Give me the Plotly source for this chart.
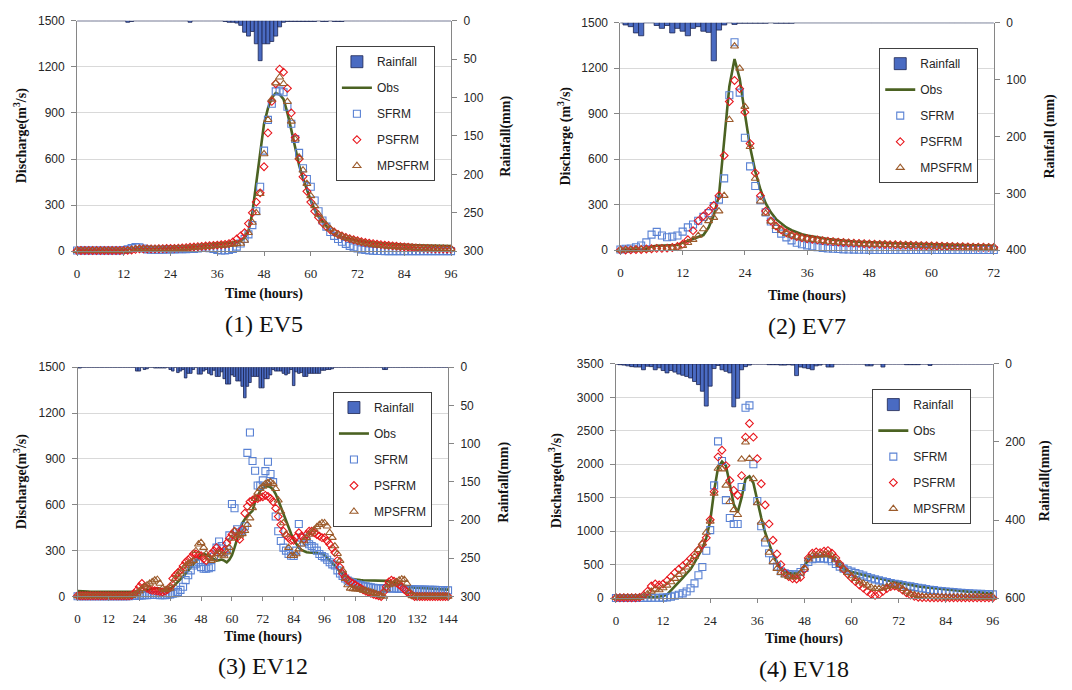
import plotly.graph_objects as go

W, H = 1072, 690

SANS = "Liberation Sans, Arial, sans-serif"
SERIF = "Liberation Serif, 'Times New Roman', serif"
INK = "#262626"
AXIS = "#868686"
GRID = "#D9D9D9"

RAIN_FILL = "#4A6BC2"
RAIN_EDGE = "#1C2550"
OBS_COLOR = "#4B6222"
SFRM_COLOR = "#5A82D4"
PSFRM_COLOR = "#E8161C"
MPSFRM_COLOR = "#9C5B2B"

# ---------------- EV5 : hourly values, 0-96 h ----------------
EV5_RAIN = [
    0, 0, 0, 0, 0, 0, 0, 0, 0, 0, 0, 0,
    0, 2, 1, 0, 0, 0, 0, 0, 0, 0, 0, 0,
    0, 0, 0, 0, 0, 2, 0, 0, 0, 0, 0, 0,
    0, 0, 1, 2, 2, 3, 6, 15, 20, 14, 30, 52,
    30, 30, 27, 20, 8, 2, 1, 1, 1, 1, 1, 1,
    1, 1, 0, 1, 1, 0, 1, 1, 1, 0, 0, 0,
    0, 0, 0, 0, 0, 0, 0, 0, 0, 0, 0, 0,
    0, 0, 0, 0, 0, 0, 0, 0, 0, 0, 0, 0,
    0]
EV5_OBS = [
    10, 10, 10, 10, 10, 10, 10, 10, 10, 10, 10, 10,
    12, 14, 18, 20, 20, 18, 18, 18, 18, 20, 20, 22,
    22, 24, 25, 26, 28, 30, 32, 35, 38, 42, 46, 50,
    50, 52, 55, 55, 56, 60, 68, 85, 130, 250, 450, 650,
    830, 930, 1000, 1030, 1020, 990, 900, 790, 670, 560, 475, 395,
    330, 270, 225, 195, 165, 135, 115, 100, 92, 85, 78, 72,
    68, 64, 61, 58, 56, 54, 52, 50, 48, 46, 45, 44,
    42, 41, 40, 39, 38, 38, 37, 36, 36, 35, 35, 34,
    34]
EV5_SFRM = [
    5, 5, 5, 5, 5, 5, 5, 5, 5, 5, 5, 5,
    8, 12, 20, 28, 25, 18, 12, 10, 10, 10, 10, 12,
    12, 12, 14, 14, 14, 15, 15, 18, 22, 22, 20, 15,
    8, 5, 5, 8, 15, 30, 50, 80, 110, 170, 260, 420,
    655, 855, 960, 1040, 1045, 1035, 940, 830, 730, 640, 540, 470,
    420, 330, 260, 200, 160, 125, 100, 80, 62, 48, 35, 25,
    18, 12, 8, 5, 3, 2, 2, 1, 1, 1, 1, 1,
    1, 1, 1, 1, 1, 1, 1, 1, 1, 1, 1, 1,
    1]
EV5_PSFRM = [
    5, 5, 5, 5, 5, 5, 5, 5, 5, 5, 5, 5,
    5, 6, 8, 12, 15, 15, 15, 15, 15, 16, 17, 18,
    18, 19, 20, 22, 24, 26, 28, 30, 32, 34, 36, 38,
    40, 42, 45, 50, 60, 80, 100, 120, 180, 250, 320, 380,
    550, 770, 975, 1090, 1185, 1165, 1060, 900, 740, 600, 485, 390,
    320, 260, 220, 185, 160, 140, 125, 110, 100, 90, 82, 75,
    68, 62, 57, 53, 50, 46, 43, 40, 38, 35, 33, 30,
    28, 26, 24, 22, 20, 19, 18, 17, 16, 15, 15, 14,
    14]
EV5_MPSFRM = [
    3, 3, 3, 3, 3, 3, 3, 3, 3, 3, 3, 3,
    3, 5, 10, 15, 15, 15, 15, 15, 15, 15, 16, 16,
    16, 17, 18, 19, 20, 22, 24, 26, 28, 30, 32, 34,
    36, 38, 40, 42, 44, 48, 50, 70, 120, 187, 250, 374,
    633, 856, 988, 1094, 1132, 1090, 973, 845, 729, 612, 527, 440,
    360, 295, 240, 200, 170, 145, 125, 110, 98, 88, 80, 72,
    65, 58, 52, 47, 43, 40, 37, 34, 32, 30, 28, 26,
    25, 24, 23, 22, 21, 20, 19, 18, 18, 17, 17, 16,
    16]

# ---------------- EV7 : hourly values, 0-72 h ----------------
EV7_RAIN = [
    0, 4, 7, 18, 23, 0, 0, 5, 10, 5, 18, 10,
    15, 23, 10, 7, 15, 17, 67, 13, 4, 0, 3, 1,
    1, 1, 1, 1, 1, 0, 1, 1, 1, 1, 0, 0,
    0, 0, 0, 0, 0, 0, 0, 0, 0, 0, 0, 0,
    0, 0, 0, 0, 0, 0, 0, 0, 0, 0, 0, 0,
    0, 0, 0, 0, 0, 0, 0, 0, 0, 0, 0, 0,
    0]
EV7_OBS = [
    5, 5, 5, 5, 5, 10, 25, 30, 30, 30, 30, 35,
    50, 62, 75, 88, 100, 150, 230, 360, 700, 1080, 1260, 1130,
    900, 680, 520, 400, 310, 250, 205, 175, 150, 132, 118, 106,
    97, 90, 84, 79, 74, 70, 66, 63, 60, 58, 56, 54,
    52, 50, 49, 48, 47, 46, 45, 44, 43, 42, 41, 40,
    39, 38, 37, 36, 35, 34, 33, 32, 31, 30, 30, 29,
    29]
EV7_SFRM = [
    5, 10, 12, 20, 31, 52, 103, 121, 97, 86, 90, 97,
    123, 151, 170, 195, 220, 245, 291, 334, 474, 1022, 1371, 1039,
    742, 553, 424, 330, 250, 190, 140, 110, 85, 65, 50, 40,
    32, 26, 20, 16, 12, 10, 8, 6, 5, 4, 3, 3,
    2, 2, 2, 2, 2, 2, 2, 2, 2, 2, 2, 2,
    2, 2, 2, 2, 2, 2, 2, 2, 2, 2, 2, 2,
    2]
EV7_PSFRM = [
    2, 2, 3, 5, 5, 8, 10, 12, 12, 14, 18, 25,
    40, 70, 129, 194, 226, 258, 295, 360, 624, 980, 1119, 1065,
    910, 703, 510, 360, 258, 194, 160, 135, 115, 100, 90, 82,
    76, 72, 68, 64, 60, 57, 54, 51, 49, 47, 45, 43,
    41, 40, 39, 38, 37, 36, 35, 34, 33, 32, 31, 30,
    29, 28, 27, 26, 25, 24, 23, 22, 21, 20, 20, 19,
    19]
EV7_MPSFRM = [
    2, 2, 3, 4, 5, 6, 8, 10, 10, 12, 15, 20,
    30, 50, 70, 97, 140, 194, 215, 258, 360, 860, 1345, 1199,
    947, 682, 473, 323, 243, 190, 155, 130, 110, 97, 87, 80,
    74, 70, 66, 62, 58, 55, 52, 50, 48, 46, 44, 42,
    40, 39, 38, 37, 36, 35, 34, 33, 32, 31, 30, 29,
    28, 27, 26, 25, 24, 23, 22, 21, 20, 20, 19, 19,
    18]

# ---------------- EV12 : hourly values, 0-144 h ----------------
EV12_RAIN = [
    1, 1, 0, 0, 0, 0, 0, 0, 0, 0, 0, 0,
    0, 0, 0, 0, 0, 0, 0, 0, 0, 0, 0, 5,
    5, 0, 3, 2, 0, 0, 1, 1, 1, 1, 1, 0,
    3, 5, 0, 7, 5, 3, 14, 8, 8, 3, 0, 9,
    9, 5, 3, 8, 10, 4, 12, 12, 6, 15, 22, 22,
    10, 12, 18, 18, 25, 40, 25, 20, 12, 12, 12, 27,
    27, 15, 15, 10, 3, 5, 5, 5, 8, 10, 8, 3,
    24, 6, 8, 7, 12, 12, 8, 8, 8, 8, 8, 4,
    4, 3, 3, 2, 0, 0, 0, 0, 0, 0, 0, 0,
    0, 0, 0, 0, 0, 0, 0, 0, 0, 0, 0, 3,
    3, 0, 0, 0, 0, 0, 0, 0, 0, 0, 0, 0,
    0, 0, 0, 0, 0, 0, 0, 0, 0, 0, 0, 0,
    0]
EV12_OBS = [
    35, 35, 35, 35, 32, 30, 30, 30, 28, 28, 28, 28,
    27, 27, 26, 26, 26, 26, 26, 26, 27, 28, 28, 30,
    30, 32, 35, 40, 45, 50, 55, 55, 50, 45, 42, 45,
    50, 60, 80, 95, 110, 130, 150, 170, 190, 210, 230, 250,
    270, 280, 275, 265, 255, 245, 235, 238, 242, 235, 224, 240,
    270, 320, 380, 430, 480, 510, 530, 545, 560, 620, 660, 690,
    710, 720, 722, 715, 700, 670, 630, 585, 535, 490, 450, 410,
    370, 340, 320, 305, 295, 290, 288, 286, 285, 285, 284, 282,
    270, 255, 240, 220, 200, 180, 160, 145, 135, 125, 118, 113,
    110, 108, 107, 106, 106, 106, 105, 105, 105, 104, 104, 104,
    102, 100, 96, 92, 88, 82, 76, 70, 66, 62, 60, 58,
    57, 56, 55, 54, 53, 52, 51, 50, 49, 48, 47, 46,
    45]
EV12_SFRM = [
    2, 2, 2, 2, 2, 2, 2, 2, 2, 2, 2, 2,
    2, 2, 2, 2, 2, 2, 2, 2, 2, 3, 4, 5,
    6, 7, 8, 9, 10, 10, 10, 10, 9, 8, 8, 10,
    14, 18, 21, 30, 43, 64, 107, 139, 171, 203, 215, 224,
    192, 182, 182, 185, 192, 260, 320, 360, 330, 290, 310, 400,
    605, 577, 440, 420, 430, 460, 940, 1073, 887, 823, 726, 726,
    760, 820, 882, 801, 748, 523, 427, 363, 320, 300, 278, 267,
    265, 300, 474, 385, 353, 363, 342, 330, 320, 300, 278, 265,
    256, 240, 224, 210, 203, 171, 150, 135, 118, 105, 96, 88,
    82, 78, 75, 70, 66, 64, 60, 57, 55, 54, 53, 53,
    53, 53, 52, 52, 51, 50, 50, 49, 48, 48, 47, 47,
    46, 46, 45, 45, 44, 44, 43, 43, 42, 42, 41, 40,
    40]
EV12_PSFRM = [
    5, 5, 5, 5, 5, 5, 5, 5, 5, 5, 5, 5,
    5, 5, 5, 5, 5, 5, 5, 5, 5, 8, 20, 40,
    64, 85, 65, 53, 45, 40, 38, 35, 32, 30, 35, 45,
    64, 117, 139, 155, 171, 200, 224, 240, 256, 278, 278, 272,
    267, 246, 235, 256, 280, 300, 320, 300, 288, 303, 350, 380,
    406, 427, 385, 374, 438, 545, 590, 620, 630, 641, 641, 650,
    652, 662, 655, 641, 620, 577, 523, 470, 427, 400, 385, 367,
    367, 390, 417, 395, 374, 406, 427, 427, 417, 405, 395, 385,
    385, 363, 342, 315, 288, 235, 192, 150, 128, 107, 95, 85,
    75, 64, 55, 43, 35, 28, 21, 15, 10, 5, 0, 30,
    64, 96, 107, 100, 90, 77, 64, 47, 30, 21, 10, 0,
    0, 0, 0, 0, 0, 0, 0, 0, 0, 0, 0, 0,
    0]
EV12_MPSFRM = [
    3, 3, 3, 3, 3, 3, 3, 3, 3, 3, 3, 3,
    3, 3, 3, 3, 3, 3, 3, 3, 3, 5, 10, 20,
    35, 50, 65, 75, 85, 95, 107, 111, 85, 53, 43, 48,
    53, 85, 117, 140, 160, 180, 200, 215, 225, 235, 299, 342,
    352, 320, 278, 256, 235, 246, 278, 280, 270, 265, 290, 320,
    380, 427, 400, 400, 410, 430, 470, 513, 580, 640, 680, 705,
    720, 737, 745, 748, 737, 705, 630, 556, 481, 406, 320, 267,
    267, 278, 310, 342, 363, 385, 406, 420, 438, 455, 470, 481,
    481, 460, 417, 385, 330, 280, 235, 171, 117, 75, 53, 50,
    48, 47, 45, 40, 38, 33, 28, 24, 18, 11, 5, 0,
    47, 75, 80, 85, 95, 107, 113, 110, 85, 32, 4, 0,
    0, 0, 0, 0, 0, 0, 0, 0, 0, 0, 0, 0,
    0]

# ---------------- EV18 : hourly values, 0-96 h ----------------
EV18_RAIN = [
    0, 2, 3, 5, 7, 8, 8, 15, 6, 7, 15, 10,
    17, 23, 17, 21, 26, 29, 32, 36, 45, 53, 70, 108,
    57, 12, 4, 15, 19, 23, 110, 88, 15, 7, 3, 0,
    0, 0, 0, 2, 2, 2, 3, 3, 2, 3, 30, 8,
    10, 12, 15, 5, 3, 0, 8, 8, 0, 0, 0, 0,
    0, 0, 0, 0, 5, 5, 0, 0, 8, 0, 0, 0,
    0, 0, 2, 2, 2, 2, 0, 0, 4, 0, 0, 0,
    0, 0, 0, 0, 0, 0, 0, 0, 0, 0, 0, 0,
    0]
EV18_OBS = [
    10, 10, 10, 10, 10, 10, 10, 12, 15, 18, 20, 24,
    30, 50, 110, 170, 230, 300, 370, 430, 530, 640, 740, 900,
    1150, 1600, 1950, 2040, 1980, 1700, 1400, 1280, 1500, 1780, 1820, 1720,
    1450, 1200, 980, 800, 650, 540, 450, 400, 375, 365, 370, 400,
    480, 570, 610, 620, 625, 630, 625, 600, 550, 490, 440, 410,
    390, 375, 360, 345, 330, 318, 305, 292, 280, 268, 255, 243,
    230, 218, 205, 195, 185, 175, 165, 158, 150, 145, 140, 135,
    128, 122, 116, 110, 105, 100, 97, 93, 88, 83, 78, 74,
    70]
EV18_SFRM = [
    2, 2, 2, 2, 2, 2, 2, 3, 3, 4, 4, 5,
    6, 10, 20, 35, 50, 70, 98, 146, 220, 342, 464, 708,
    1015, 1684, 2342, 2049, 1464, 1196, 1108, 1108, 1660, 2845, 2880, 2000,
    1450, 1074, 830, 669, 561, 470, 400, 370, 360, 350, 355, 390,
    450, 540, 580, 590, 595, 590, 580, 550, 510, 470, 440, 415,
    395, 375, 355, 335, 315, 295, 280, 265, 250, 238, 226, 215,
    205, 195, 185, 175, 165, 155, 145, 135, 125, 118, 110, 103,
    97, 92, 88, 84, 80, 76, 72, 68, 65, 62, 59, 56,
    55]
EV18_PSFRM = [
    5, 5, 5, 5, 5, 5, 10, 40, 100, 180, 210, 195,
    210, 260, 320, 380, 430, 480, 530, 590, 650, 720, 800, 900,
    1170, 1590, 2110, 2210, 1980, 1757, 1610, 1537, 1830, 2405, 2610, 2405,
    2084, 1708, 1391, 1108, 864, 659, 500, 380, 320, 290, 285, 310,
    430, 600, 670, 690, 680, 700, 710, 670, 600, 510, 430, 360,
    300, 245, 195, 150, 100, 60, 40, 55, 100, 140, 170, 180,
    160, 120, 80, 45, 25, 12, 8, 6, 5, 5, 5, 5,
    5, 5, 5, 5, 5, 5, 5, 5, 5, 5, 5, 5,
    5]
EV18_MPSFRM = [
    5, 5, 5, 5, 5, 5, 8, 20, 60, 100, 130, 120,
    150, 190, 240, 290, 350, 400, 460, 530, 620, 720, 820, 980,
    1147, 1562, 1937, 1928, 1684, 1440, 1318, 1245, 2074, 2328, 2084, 1781,
    1420, 1130, 880, 680, 540, 440, 380, 340, 320, 310, 320, 370,
    450, 580, 630, 640, 640, 650, 660, 630, 570, 500, 430, 380,
    330, 290, 250, 220, 190, 160, 140, 140, 150, 170, 180, 190,
    170, 140, 100, 70, 50, 35, 25, 22, 20, 18, 16, 15,
    14, 13, 13, 12, 12, 12, 11, 11, 11, 10, 10, 10,
    10]

# Tick labels
TIME_TICKS_96 = [0, 12, 24, 36, 48, 60, 72, 84, 96]
TIME_TICKS_72 = [0, 12, 24, 36, 48, 60, 72]
TIME_TICKS_144 = [0, 12, 24, 36, 48, 60, 72, 84, 96, 108, 120, 132, 144]
Q_TICKS_1500 = [0, 300, 600, 900, 1200, 1500]
Q_TICKS_3500 = [0, 500, 1000, 1500, 2000, 2500, 3000, 3500]
R_TICKS_300 = [0, 50, 100, 150, 200, 250, 300]
R_TICKS_400 = [0, 100, 200, 300, 400]
R_TICKS_600 = [0, 200, 400, 600]

events = [
    dict(label="(1) EV5", rain=EV5_RAIN, obs=EV5_OBS, sfrm=EV5_SFRM, psfrm=EV5_PSFRM, mpsfrm=EV5_MPSFRM,
         xticks=TIME_TICKS_96, qticks=Q_TICKS_1500, rticks=R_TICKS_300,
         qtitle="Discharge(m<sup>3</sup>/s)", rtitle="Rainfall(mm)",
         box=(75, 14, 453.5, 249.3), qx=18.5, rx=509, tx_y=293, sub_y=324, leg=(337, 40)),
    dict(label="(2) EV7", rain=EV7_RAIN, obs=EV7_OBS, sfrm=EV7_SFRM, psfrm=EV7_PSFRM, mpsfrm=EV7_MPSFRM,
         xticks=TIME_TICKS_72, qticks=Q_TICKS_1500, rticks=R_TICKS_400,
         qtitle="Discharge (m<sup>3</sup>/s)", rtitle="Rainfall (mm)",
         box=(625, 16, 1003, 248.3), qx=568, rx=1060, tx_y=295, sub_y=326, leg=(887, 42)),
    dict(label="(3) EV12", rain=EV12_RAIN, obs=EV12_OBS, sfrm=EV12_SFRM, psfrm=EV12_PSFRM, mpsfrm=EV12_MPSFRM,
         xticks=TIME_TICKS_144, qticks=Q_TICKS_1500, rticks=R_TICKS_300,
         qtitle="Discharge(m<sup>3</sup>/s)", rtitle="Rainfall(mm)",
         box=(75.5, 367.7, 450.5, 601.7), qx=18.5, rx=507, tx_y=643, sub_y=673, leg=(334, 393)),
    dict(label="(4) EV18", rain=EV18_RAIN, obs=EV18_OBS, sfrm=EV18_SFRM, psfrm=EV18_PSFRM, mpsfrm=EV18_MPSFRM,
         xticks=TIME_TICKS_96, qticks=Q_TICKS_3500, rticks=R_TICKS_600,
         qtitle="Discharge(m<sup>3</sup>/s)", rtitle="Rainfall(mm)",
         box=(620.5, 364.3, 1002, 603.3), qx=560, rx=1055, tx_y=645, sub_y=676, leg=(880, 390)),
]


def fx(v):
    return v / W


def fy(v):
    return 1 - v / H


fig = go.Figure()
layout = {}
annotations = []

for i, ev in enumerate(events):
    n = i + 1
    x_id = "x" if n == 1 else f"x{n}"
    r_num, q_num = 2 * n - 1, 2 * n
    r_id = "y" if r_num == 1 else f"y{r_num}"
    q_id = f"y{q_num}"
    leg_id = "legend" if n == 1 else f"legend{n}"
    hours = list(range(len(ev["obs"])))
    for series in ("rain", "sfrm", "psfrm", "mpsfrm"):
        assert len(ev[series]) == len(hours), (ev["label"], series)

    fig.add_trace(go.Bar(
        x=hours, y=ev["rain"], xaxis=x_id, yaxis=r_id, name="Rainfall", width=1.0,
        marker=dict(color=RAIN_FILL, line=dict(color=RAIN_EDGE, width=0.8)),
        legend=leg_id, legendgroup=f"ev{n}-rain"))
    fig.add_trace(go.Scatter(
        x=hours, y=ev["obs"], xaxis=x_id, yaxis=q_id, name="Obs", mode="lines",
        line=dict(color=OBS_COLOR, width=2.6), cliponaxis=False,
        legend=leg_id, legendgroup=f"ev{n}-obs"))
    for key, name, symbol, color, size in (
        ("sfrm", "SFRM", "square-open", SFRM_COLOR, 7),
        ("psfrm", "PSFRM", "diamond-open", PSFRM_COLOR, 6),
        ("mpsfrm", "MPSFRM", "triangle-up-open", MPSFRM_COLOR, 7),
    ):
        fig.add_trace(go.Scatter(
            x=hours, y=ev[key], xaxis=x_id, yaxis=q_id, name=name, mode="markers",
            marker=dict(symbol=symbol, size=size, color=color, line=dict(color=color, width=1.1)),
            cliponaxis=False, legend=leg_id, legendgroup=f"ev{n}-{key}"))

    L, T, R, B = ev["box"]
    xmax = ev["xticks"][-1]
    layout["xaxis" if n == 1 else f"xaxis{n}"] = dict(
        domain=[fx(L), fx(R)], anchor=r_id, range=[0, xmax],
        tickvals=ev["xticks"], ticks="outside", ticklen=4, tickcolor=AXIS,
        showline=True, linecolor=AXIS, linewidth=1, showgrid=False, zeroline=False,
        tickfont=dict(family=SERIF, size=13, color=INK), ticklabelstandoff=6)
    layout["yaxis" if r_num == 1 else f"yaxis{r_num}"] = dict(
        domain=[fy(B), fy(T)], anchor=x_id, side="right",
        range=[ev["rticks"][-1], 0], tickvals=ev["rticks"],
        ticks="outside", ticklen=5, tickcolor=AXIS,
        showline=True, linecolor=AXIS, linewidth=1, showgrid=False, zeroline=False,
        tickfont=dict(family=SANS, size=12, color=INK), ticklabelstandoff=4)
    layout[f"yaxis{q_num}"] = dict(
        overlaying=r_id, anchor=x_id, side="left",
        range=[0, ev["qticks"][-1]], tickvals=ev["qticks"],
        ticks="outside", ticklen=5, tickcolor=AXIS,
        showline=True, linecolor=AXIS, linewidth=1,
        showgrid=True, gridcolor=GRID, gridwidth=1, zeroline=False,
        tickfont=dict(family=SANS, size=12, color=INK), ticklabelstandoff=4)

    lx, ly = ev["leg"]
    layout[leg_id] = dict(
        x=fx(lx), y=fy(ly), xanchor="left", yanchor="top",
        bgcolor="white", bordercolor="#404040", borderwidth=1,
        font=dict(family=SANS, size=12, color=INK),
        traceorder="grouped", tracegroupgap=7, itemwidth=30)

    mid_y = fy((T + B) / 2)
    annotations += [
        dict(x=fx(ev["qx"]), y=mid_y, text=f"<b>{ev['qtitle']}</b>", textangle=-90,
             font=dict(family=SERIF, size=14, color="#111")),
        dict(x=fx(ev["rx"]), y=mid_y, text=f"<b>{ev['rtitle']}</b>", textangle=-90,
             font=dict(family=SERIF, size=14, color="#111")),
        dict(x=fx((L + R) / 2), y=fy(ev["tx_y"]), text="<b>Time (hours)</b>",
             font=dict(family=SERIF, size=14, color="#111")),
        dict(x=fx((L + R) / 2), y=fy(ev["sub_y"]), text=ev["label"],
             font=dict(family=SERIF, size=24, color="#111")),
    ]

for a in annotations:
    a.update(xref="paper", yref="paper", showarrow=False, xanchor="center", yanchor="middle")

fig.update_layout(
    width=W, height=H, margin=dict(l=0, r=0, t=0, b=0),
    paper_bgcolor="white", plot_bgcolor="white",
    showlegend=True, annotations=annotations, **layout)

fig.write_html("out.html")
